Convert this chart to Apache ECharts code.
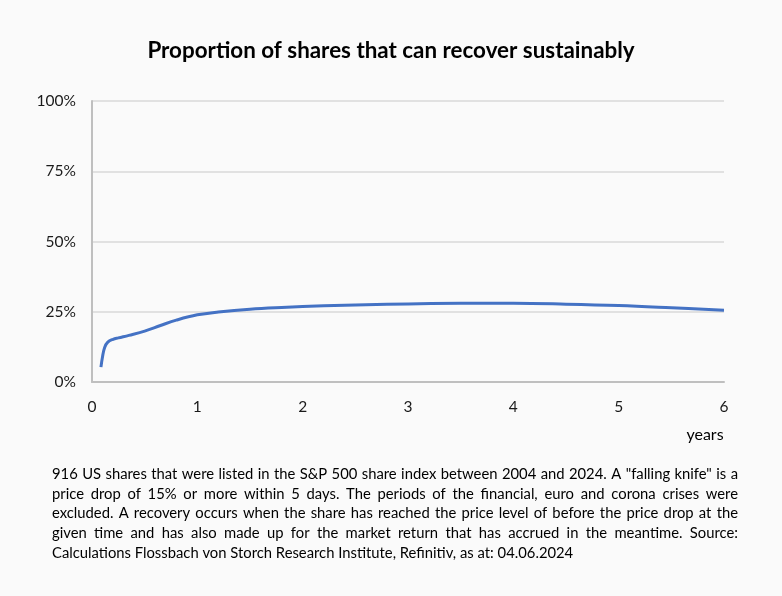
<!DOCTYPE html>
<html>
<head>
<meta charset="utf-8">
<script src="https://cdn.jsdelivr.net/npm/echarts@6/dist/echarts.min.js"></script>
<style>
html,body{margin:0;padding:0;background:#fafafa;}
#main{width:782px;height:596px;}
</style>
</head>
<body>
<div id="main"></div>
<script>
const titleText = 'Proportion of shares that can recover sustainably';
const years = [0.085, 0.1, 0.12, 0.15, 0.2, 0.25, 0.35, 0.5, 0.65, 0.8, 1.0, 1.2, 1.5, 1.8, 2.2, 2.6, 3, 3.5, 4, 4.5, 5, 5.5, 6];
const share = [5.3, 9, 12.3, 14.2, 15.2, 15.7, 16.6, 18.1, 20.1, 22.0, 23.9, 24.9, 25.9, 26.5, 27.1, 27.5, 27.8, 28.0, 28.0, 27.7, 27.2, 26.4, 25.5];
const xAxisName = 'years';
const footnoteLines = [
  '916 US shares that were listed in the S&P 500 share index between 2004 and 2024. A "falling knife" is a',
  'price drop of 15% or more within 5 days. The periods of the financial, euro and corona crises were',
  'excluded. A recovery occurs when the share has reached the price level of before the price drop at the',
  'given time and has also made up for the market return that has accrued in the meantime. Source:',
  'Calculations Flossbach von Storch Research Institute, Refinitiv, as at: 04.06.2024'
];

const FONT = 'Lato, "Liberation Sans", sans-serif';
const noteSize = 14.8;
const noteFont = noteSize + 'px ' + FONT;
const ctx = document.createElement('canvas').getContext('2d');
ctx.font = noteFont;

const noteLeft = 52, noteRight = 738, noteTop = 474, noteLH = 19.8;
const graphics = [];
footnoteLines.forEach((line, i) => {
  const y = noteTop + i * noteLH;
  const last = i === footnoteLines.length - 1;
  if (last) {
    graphics.push({type:'text', x:noteLeft, y:y, style:{text:line, font:noteFont, fill:'#000', verticalAlign:'middle', textVerticalAlign:'middle'}});
    return;
  }
  const words = line.split(' ');
  const widths = words.map(w => ctx.measureText(w).width);
  const total = widths.reduce((a,b)=>a+b,0);
  const gap = (noteRight - noteLeft - total) / (words.length - 1);
  let x = noteLeft;
  words.forEach((w, k) => {
    graphics.push({type:'text', x:x, y:y, style:{text:w, font:noteFont, fill:'#000', textVerticalAlign:'middle', verticalAlign:'middle'}});
    x += widths[k] + gap;
  });
});
graphics.push({type:'text', x:705, y:435, style:{text:xAxisName, font:'16px ' + FONT, fill:'#000', textAlign:'center', align:'center', verticalAlign:'middle', textVerticalAlign:'middle'}});

const chart = echarts.init(document.getElementById('main'));
chart.setOption({
  backgroundColor:'#fafafa',
  animation:false,
  title:{text:titleText, left:'center', top:35, textStyle:{fontFamily:FONT, fontSize:22.4, fontWeight:'bold', color:'#000'}},
  grid:{left:92, right:58, top:101, bottom:214},
  xAxis:{type:'value', min:0, max:6, interval:1,
    axisLine:{lineStyle:{color:'#bfbfbf', width:2}}, axisTick:{show:false},
    axisLabel:{color:'#1a1a1a', fontFamily:FONT, fontSize:15.5, margin:17},
    splitLine:{show:false}},
  yAxis:{type:'value', min:0, max:100, interval:25,
    axisLine:{show:true, lineStyle:{color:'#bfbfbf', width:2}}, axisTick:{show:false},
    axisLabel:{color:'#1a1a1a', fontFamily:FONT, fontSize:15.5, margin:16, formatter:'{value}%'},
    splitLine:{lineStyle:{color:'#d9d9d9', width:1.5}}},
  series:[{type:'line', data: years.map((x,i)=>[x, share[i]]), smooth:0.4, showSymbol:false,
    lineStyle:{color:'#4472c4', width:3}}],
  graphic: graphics
});
</script>
</body>
</html>
